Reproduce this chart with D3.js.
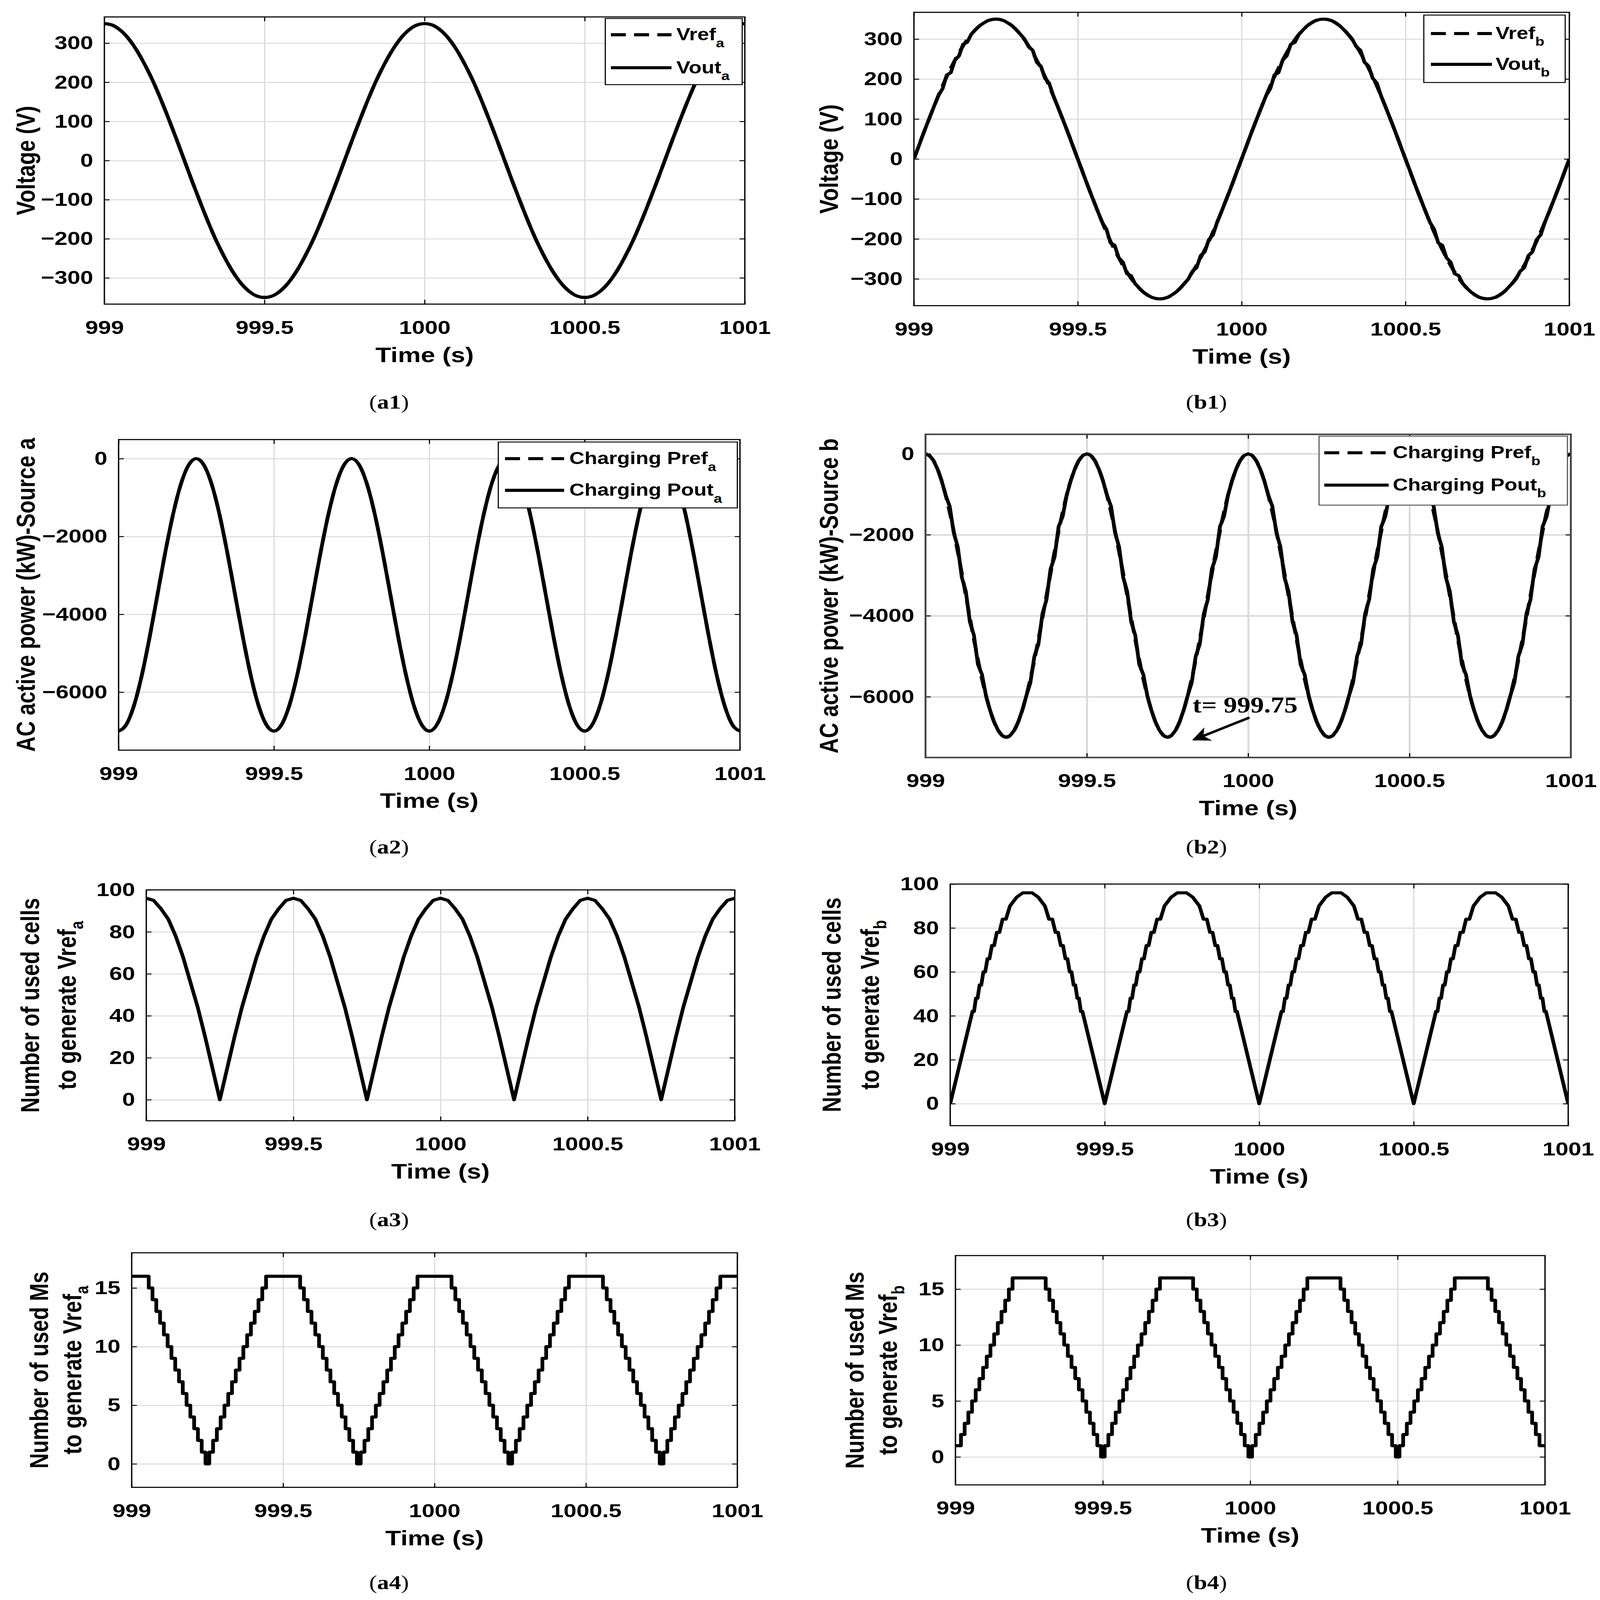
<!DOCTYPE html>
<html>
<head>
<meta charset="utf-8">
<title>Converter waveforms, sources a and b</title>
<script src="https://cdn.jsdelivr.net/npm/d3@7/dist/d3.min.js"></script>
<style>
  html, body { margin: 0; padding: 0; background: #fff; overflow: hidden; }
  #fig { display: block; width: 100vw; height: 100vh; }
  text { font-family: "Liberation Sans", Arial, Helvetica, sans-serif; font-weight: bold; }
  text.tag, text.note { font-family: "Liberation Serif", "Times New Roman", serif; }
</style>
</head>
<body>
<!-- figure is laid out on a 4277 x 5198 grid and stretched to whatever window it gets -->
<svg id="fig" viewBox="0 0 4277 5198" preserveAspectRatio="none"></svg>
<script>
// ---- ticks ----
const timeTicks = [999, 999.5, 1000, 1000.5, 1001];
const voltTicks = [-300, -200, -100, 0, 100, 200, 300];
const powerTicks = [-6000, -4000, -2000, 0];
const cellTicks = [0, 20, 40, 60, 80, 100];
const msTicks = [0, 5, 10, 15];

// sample spacing of the traces (s)
const coarseStep = 0.025;
const fineStep = 0.0125;
const coarseTime = d3.range(81).map(i => 999 + i * coarseStep);
const fineTime = d3.range(161).map(i => 999 + i * fineStep);

// (a1) voltage source a - ref and output lie on top of each other
const a1Vref = [
  350,346,333,312,283,247,206,159,108,55,0,-55,-108,-159,-206,-247,-283,-312,-333,-346,
  -350,-346,-333,-312,-283,-247,-206,-159,-108,-55,0,55,108,159,206,247,283,312,333,346,
  350,346,333,312,283,247,206,159,108,55,0,-55,-108,-159,-206,-247,-283,-312,-333,-346,
  -350,-346,-333,-312,-283,-247,-206,-159,-108,-55,0,55,108,159,206,247,283,312,333,346,
  350];
const a1Vout = a1Vref;

// (b1) voltage source b
const b1Vref = [
  0,55,108,159,206,247,283,312,333,346,350,346,333,312,283,247,206,159,108,55,
  0,-55,-108,-159,-206,-247,-283,-312,-333,-346,-350,-346,-333,-312,-283,-247,-206,-159,-108,-55,
  0,55,108,159,206,247,283,312,333,346,350,346,333,312,283,247,206,159,108,55,
  0,-55,-108,-159,-206,-247,-283,-312,-333,-346,-350,-346,-333,-312,-283,-247,-206,-159,-108,-55,
  0];
const b1Vout = [
  0,27,55,82,108,134,159,176,210,216,247,258,287,292,312,323,333,340,346,349,350,349,346,340,333,323,312,300,281,272,242,232,202,190,159,134,108,82,55,27,
  0,-27,-55,-82,-108,-134,-159,-176,-210,-216,-247,-258,-287,-292,-312,-323,-333,-340,-346,-349,-350,-349,-346,-340,-333,-323,-312,-300,-281,-272,-242,-232,-202,-190,-159,-134,-108,-82,-55,-27,
  0,27,55,82,108,134,159,176,210,216,247,258,287,292,312,323,333,340,346,349,350,349,346,340,333,323,312,300,281,272,242,232,202,190,159,134,108,82,55,27,
  0,-27,-55,-82,-108,-134,-159,-176,-210,-216,-247,-258,-287,-292,-312,-323,-333,-340,-346,-349,-350,-349,-346,-340,-333,-323,-312,-300,-281,-272,-242,-232,-202,-190,-159,-134,-108,-82,-55,-27,
  0];

// (a2) charging power source a
const a2Pref = [
  -7000,-6829,-6332,-5558,-4582,-3500,-2418,-1442,-668,-171,0,-171,-668,-1442,-2418,-3500,-4582,-5558,-6332,-6829,
  -7000,-6829,-6332,-5558,-4582,-3500,-2418,-1442,-668,-171,0,-171,-668,-1442,-2418,-3500,-4582,-5558,-6332,-6829,
  -7000,-6829,-6332,-5558,-4582,-3500,-2418,-1442,-668,-171,0,-171,-668,-1442,-2418,-3500,-4582,-5558,-6332,-6829,
  -7000,-6829,-6332,-5558,-4582,-3500,-2418,-1442,-668,-171,0,-171,-668,-1442,-2418,-3500,-4582,-5558,-6332,-6829,
  -7000];
const a2Pout = a2Pref;

// (b2) charging power source b
const b2Pref = [
  0,-171,-668,-1442,-2418,-3500,-4582,-5558,-6332,-6829,-7000,-6829,-6332,-5558,-4582,-3500,-2418,-1442,-668,-171,
  0,-171,-668,-1442,-2418,-3500,-4582,-5558,-6332,-6829,-7000,-6829,-6332,-5558,-4582,-3500,-2418,-1442,-668,-171,
  0,-171,-668,-1442,-2418,-3500,-4582,-5558,-6332,-6829,-7000,-6829,-6332,-5558,-4582,-3500,-2418,-1442,-668,-171,
  0,-171,-668,-1442,-2418,-3500,-4582,-5558,-6332,-6829,-7000,-6829,-6332,-5558,-4582,-3500,-2418,-1442,-668,-171,
  0];
const b2Pout = [
  0,-43,-171,-382,-668,-1025,-1300,-1950,-2300,-3050,-3400,-4150,-4480,-5200,-5450,-5975,-6332,-6618,-6829,-6957,-7000,-6957,-6829,-6618,-6332,-5975,-5650,-5000,-4700,-3950,-3600,-2850,-2550,-1800,-1550,-1025,-668,-382,-171,-43,
  0,-43,-171,-382,-668,-1025,-1300,-1950,-2300,-3050,-3400,-4150,-4480,-5200,-5450,-5975,-6332,-6618,-6829,-6957,-7000,-6957,-6829,-6618,-6332,-5975,-5650,-5000,-4700,-3950,-3600,-2850,-2550,-1800,-1550,-1025,-668,-382,-171,-43,
  0,-43,-171,-382,-668,-1025,-1300,-1950,-2300,-3050,-3400,-4150,-4480,-5200,-5450,-5975,-6332,-6618,-6829,-6957,-7000,-6957,-6829,-6618,-6332,-5975,-5650,-5000,-4700,-3950,-3600,-2850,-2550,-1800,-1550,-1025,-668,-382,-171,-43,
  0,-43,-171,-382,-668,-1025,-1300,-1950,-2300,-3050,-3400,-4150,-4480,-5200,-5450,-5975,-6332,-6618,-6829,-6957,-7000,-6957,-6829,-6618,-6332,-5975,-5650,-5000,-4700,-3950,-3600,-2850,-2550,-1800,-1550,-1025,-668,-382,-171,-43,
  0];

// (a3) cells used for Vref a
const a3Cells = [
  96,95,91,86,78,68,56,44,30,15,0,15,30,44,56,68,78,86,91,95,
  96,95,91,86,78,68,56,44,30,15,0,15,30,44,56,68,78,86,91,95,
  96,95,91,86,78,68,56,44,30,15,0,15,30,44,56,68,78,86,91,95,
  96,95,91,86,78,68,56,44,30,15,0,15,30,44,56,68,78,86,91,95,
  96];

// (b3) cells used for Vref b - corners of the stepped trace
const b3Time = [
  999,999.0721,999.0771,999.0833,999.0886,999.0951,999.1006,999.1074,999.1133,999.1206,999.1271,999.135,999.1422,999.1509,999.1593,999.1696,999.1803,999.1934,999.215,999.235,999.265,999.285,
  999.3066,999.3197,999.3304,999.3407,999.3491,999.3578,999.365,999.3729,999.3794,999.3867,999.3926,999.3994,999.4049,999.4114,999.4167,999.4229,999.4279,
  999.5,999.5721,999.5771,999.5833,999.5886,999.5951,999.6006,999.6074,999.6133,999.6206,999.6271,999.635,999.6422,999.6509,999.6593,999.6696,999.6803,999.6934,999.715,999.735,999.765,999.785,
  999.8066,999.8197,999.8304,999.8407,999.8491,999.8578,999.865,999.8729,999.8794,999.8867,999.8926,999.8994,999.9049,999.9114,999.9167,999.9229,999.9279,
  1000,1000.0721,1000.0771,1000.0833,1000.0886,1000.0951,1000.1006,1000.1074,1000.1133,1000.1206,1000.1271,1000.135,1000.1422,1000.1509,1000.1593,1000.1696,1000.1803,1000.1934,1000.215,1000.235,1000.265,1000.285,
  1000.3066,1000.3197,1000.3304,1000.3407,1000.3491,1000.3578,1000.365,1000.3729,1000.3794,1000.3867,1000.3926,1000.3994,1000.4049,1000.4114,1000.4167,1000.4229,1000.4279,
  1000.5,1000.5721,1000.5771,1000.5833,1000.5886,1000.5951,1000.6006,1000.6074,1000.6133,1000.6206,1000.6271,1000.635,1000.6422,1000.6509,1000.6593,1000.6696,1000.6803,1000.6934,1000.715,1000.735,1000.765,1000.785,
  1000.8066,1000.8197,1000.8304,1000.8407,1000.8491,1000.8578,1000.865,1000.8729,1000.8794,1000.8867,1000.8926,1000.8994,1000.9049,1000.9114,1000.9167,1000.9229,1000.9279,
  1001];
const b3Cells = [
  0,42,42,48,48,54,54,60,60,66,66,72,72,78,78,84,84,90,94,96,96,94,90,84,84,78,78,72,72,66,66,60,60,54,54,48,48,42,42,
  0,42,42,48,48,54,54,60,60,66,66,72,72,78,78,84,84,90,94,96,96,94,90,84,84,78,78,72,72,66,66,60,60,54,54,48,48,42,42,
  0,42,42,48,48,54,54,60,60,66,66,72,72,78,78,84,84,90,94,96,96,94,90,84,84,78,78,72,72,66,66,60,60,54,54,48,48,42,42,
  0,42,42,48,48,54,54,60,60,66,66,72,72,78,78,84,84,90,94,96,96,94,90,84,84,78,78,72,72,66,66,60,60,54,54,48,48,42,42,
  0];

// (a4) modules used for Vref a
const a4Ms = [
  16,16,16,16,16,15,14,13,12,11,10,9,8,7,6,5,4,3,2,1,0,1,2,3,4,5,6,7,8,9,10,11,12,13,14,15,16,16,16,16,
  16,16,16,16,16,15,14,13,12,11,10,9,8,7,6,5,4,3,2,1,0,1,2,3,4,5,6,7,8,9,10,11,12,13,14,15,16,16,16,16,
  16,16,16,16,16,15,14,13,12,11,10,9,8,7,6,5,4,3,2,1,0,1,2,3,4,5,6,7,8,9,10,11,12,13,14,15,16,16,16,16,
  16,16,16,16,16,15,14,13,12,11,10,9,8,7,6,5,4,3,2,1,0,1,2,3,4,5,6,7,8,9,10,11,12,13,14,15,16,16,16,16,
  16];

// (b4) modules used for Vref b
const b4Ms = [
  1,1,2,3,4,5,6,7,8,9,10,11,12,13,14,15,16,16,16,16,16,16,16,16,16,15,14,13,12,11,10,9,8,7,6,5,4,3,2,1,
  0,1,2,3,4,5,6,7,8,9,10,11,12,13,14,15,16,16,16,16,16,16,16,16,16,15,14,13,12,11,10,9,8,7,6,5,4,3,2,1,
  0,1,2,3,4,5,6,7,8,9,10,11,12,13,14,15,16,16,16,16,16,16,16,16,16,15,14,13,12,11,10,9,8,7,6,5,4,3,2,1,
  0,1,2,3,4,5,6,7,8,9,10,11,12,13,14,15,16,16,16,16,16,16,16,16,16,15,14,13,12,11,10,9,8,7,6,5,4,3,2,1,
  1];

const TICK_FONT = 62, LABEL_FONT = 69, LEGEND_FONT = 56, TAG_FONT = 64;
const LINE_W = 10, DASH = '40,22';

const panels = [
  { tag: 'a1', box: [279, 1991, 55, 988], yDomain: [-367, 367], yTicks: voltTicks,
    yLabel: [{ x: 69, text: 'Voltage (V)' }],
    series: [
      { t: coarseTime, v: a1Vref, dashed: true, curve: d3.curveMonotoneX },
      { t: coarseTime, v: a1Vout, curve: d3.curveMonotoneX }],
    legend: { box: [1618, 1984, 60, 275], line: [1633, 1795], textX: 1808, rows: [113, 220],
      labels: [['Vref', 'a'], ['Vout', 'a']] },
    tagPos: [1040, 1327] },
  { tag: 'b1', box: [2443, 4195, 40, 993], yDomain: [-367, 367], yTicks: voltTicks,
    yLabel: [{ x: 2216, text: 'Voltage (V)' }],
    series: [
      { t: coarseTime, v: b1Vref, dashed: true, curve: d3.curveMonotoneX },
      { t: fineTime, v: b1Vout }],
    legend: { box: [3806, 4184, 49, 268], line: [3825, 3988], textX: 3998, rows: [109, 209],
      labels: [['Vref', 'b'], ['Vout', 'b']] },
    tagPos: [3225, 1327] },
  { tag: 'a2', box: [317, 1978, 1428, 2437], yDomain: [-7490, 490], yTicks: powerTicks,
    yLabel: [{ x: 69, text: 'AC active power (kW)-Source a' }],
    series: [
      { t: coarseTime, v: a2Pref, dashed: true, curve: d3.curveMonotoneX },
      { t: coarseTime, v: a2Pout, curve: d3.curveMonotoneX }],
    legend: { box: [1332, 1971, 1436, 1650], line: [1350, 1508], textX: 1522, rows: [1490, 1593],
      labels: [['Charging Pref', 'a'], ['Charging Pout', 'a']] },
    tagPos: [1040, 2773] },
  { tag: 'b2', box: [2474, 4199, 1411, 2461], yDomain: [-7500, 480], yTicks: powerTicks,
    yLabel: [{ x: 2216, text: 'AC active power (kW)-Source b' }],
    series: [
      { t: coarseTime, v: b2Pref, dashed: true, curve: d3.curveMonotoneX },
      { t: fineTime, v: b2Pout }],
    legend: { box: [3526, 4190, 1417, 1641], line: [3540, 3712], textX: 3723, rows: [1471, 1576],
      labels: [['Charging Pref', 'b'], ['Charging Pout', 'b']], stroke: '#555' },
    note: { t: 999.75, v: -7000, text: 't= 999.75' },
    gridWidth: 5, boxColor: '#444', boxWidth: 5,
    tagPos: [3225, 2773] },
  { tag: 'a3', box: [391, 1964, 2891, 3641], yDomain: [-10, 100], yTicks: cellTicks,
    yLabel: [{ x: 80, text: 'Number of used cells' }, { x: 179, text: 'to generate Vref', sub: 'a' }],
    series: [{ t: coarseTime, v: a3Cells }],
    tagPos: [1040, 3983] },
  { tag: 'b3', box: [2540, 4192, 2872, 3657], yDomain: [-10, 100], yTicks: cellTicks,
    yLabel: [{ x: 2223, text: 'Number of used cells' }, { x: 2326, text: 'to generate Vref', sub: 'b' }],
    series: [{ t: b3Time, v: b3Cells }],
    tagPos: [3225, 3983] },
  { tag: 'a4', box: [352, 1971, 4070, 4832], yDomain: [-2, 18], yTicks: msTicks,
    yLabel: [{ x: 104, text: 'Number of used Ms' }, { x: 193, text: 'to generate Vref', sub: 'a' }],
    series: [{ t: fineTime, v: a4Ms, curve: d3.curveStep }],
    tagPos: [1040, 5163] },
  { tag: 'b4', box: [2554, 4130, 4079, 4824], yDomain: [-2.5, 18], yTicks: msTicks,
    yLabel: [{ x: 2285, text: 'Number of used Ms' }, { x: 2374, text: 'to generate Vref', sub: 'b' }],
    series: [{ t: fineTime, v: b4Ms, curve: d3.curveStep }],
    tagPos: [3225, 5163] }
];

const svg = d3.select('#fig');
svg.append('rect').attr('width', 4277).attr('height', 5198).attr('fill', '#fff');

const defs = svg.append('defs');
defs.append('marker').attr('id', 'arrowHead')
  .attr('viewBox', '0 0 10 10').attr('refX', 9).attr('refY', 5)
  .attr('markerWidth', 8).attr('markerHeight', 6).attr('markerUnits', 'strokeWidth')
  .attr('orient', 'auto')
  .append('path').attr('d', 'M0,0 L10,5 L0,10 L3,5 Z').attr('fill', '#000');

function drawPanel(p) {
  const [x0, x1, y0, y1] = p.box;
  const w = x1 - x0, h = y1 - y0;
  const g = svg.append('g').attr('transform', `translate(${x0},${y0})`);
  const x = d3.scaleLinear().domain([999, 1001]).range([0, w]);
  const y = d3.scaleLinear().domain(p.yDomain).range([h, 0]);

  // grid
  const gridX = g.append('g').attr('transform', `translate(0,${h})`)
    .call(d3.axisBottom(x).tickValues(timeTicks).tickSize(-h).tickFormat(''));
  const gridY = g.append('g')
    .call(d3.axisLeft(y).tickValues(p.yTicks).tickSize(-w).tickFormat(''));
  [gridX, gridY].forEach(s => {
    s.select('.domain').remove();
    s.selectAll('line').attr('stroke', '#d9d9d9').attr('stroke-width', p.gridWidth || 3);
  });

  // traces
  const clipId = 'clip-' + p.tag;
  defs.append('clipPath').attr('id', clipId)
    .append('rect').attr('x', x0).attr('y', y0).attr('width', w).attr('height', h);
  const plot = svg.append('g').attr('clip-path', `url(#${clipId})`)
    .append('g').attr('transform', `translate(${x0},${y0})`);
  p.series.forEach(s => {
    const line = d3.line()
      .x((d, i) => x(s.t[i]))
      .y(d => y(d))
      .curve(s.curve || d3.curveLinear);
    plot.append('path').datum(s.v)
      .attr('d', line)
      .attr('fill', 'none')
      .attr('stroke', '#000')
      .attr('stroke-width', LINE_W)
      .attr('stroke-linejoin', 'round')
      .attr('stroke-dasharray', s.dashed ? DASH : null);
  });

  // inner ticks on all four sides, labels bottom and left
  const tickLen = 14;
  const ax = svg.append('g').attr('transform', `translate(${x0},${y0})`);
  const bottom = ax.append('g').attr('transform', `translate(0,${h})`)
    .call(d3.axisBottom(x).tickValues(timeTicks).tickFormat(d => String(d))
      .tickSizeInner(-tickLen).tickSizeOuter(0));
  bottom.selectAll('text').attr('y', 75).attr('dy', '0.35em');
  ax.append('g')
    .call(d3.axisLeft(y).tickValues(p.yTicks).tickFormat(d3.format('d'))
      .tickSizeInner(-tickLen).tickSizeOuter(0).tickPadding(30));
  ax.append('g').call(d3.axisTop(x).tickValues(timeTicks).tickFormat('')
    .tickSizeInner(-tickLen).tickSizeOuter(0));
  ax.append('g').attr('transform', `translate(${w},0)`)
    .call(d3.axisRight(y).tickValues(p.yTicks).tickFormat('')
      .tickSizeInner(-tickLen).tickSizeOuter(0));
  ax.selectAll('.domain').remove();
  ax.selectAll('.tick line').attr('stroke', '#000').attr('stroke-width', 3);
  ax.selectAll('.tick text').attr('fill', '#000').style('font-size', TICK_FONT + 'px')
    .style('font-family', '"Liberation Sans", Arial, sans-serif').style('font-weight', 'bold');

  ax.append('rect').attr('width', w).attr('height', h)
    .attr('fill', 'none').attr('stroke', p.boxColor || '#000').attr('stroke-width', p.boxWidth || 3.5);

  // axis titles
  ax.append('text').attr('x', w / 2).attr('y', h + 164)
    .attr('text-anchor', 'middle').attr('dominant-baseline', 'central')
    .style('font-size', LABEL_FONT + 'px').text('Time (s)');
  p.yLabel.forEach(l => {
    const t = ax.append('text')
      .attr('transform', `translate(${l.x - x0},${h / 2}) rotate(-90)`)
      .attr('text-anchor', 'middle').attr('dominant-baseline', 'central')
      .style('font-size', LABEL_FONT + 'px');
    t.append('tspan').text(l.text);
    if (l.sub) t.append('tspan').attr('dy', 26).style('font-size', '48px').text(l.sub);
  });

  // annotation with arrow (b2)
  if (p.note) {
    const px = x(p.note.t), py = y(p.note.v);
    ax.append('line')
      .attr('x1', px + 219).attr('y1', py - 64)
      .attr('x2', px + 70).attr('y2', py + 8)
      .attr('stroke', '#000').attr('stroke-width', 8)
      .attr('marker-end', 'url(#arrowHead)');
    ax.append('text').attr('class', 'note')
      .attr('x', px + 67).attr('y', py - 80)
      .style('font-size', '72px').text(p.note.text);
  }

  // legend
  if (p.legend) {
    const L = p.legend;
    svg.append('rect')
      .attr('x', L.box[0]).attr('y', L.box[2])
      .attr('width', L.box[1] - L.box[0]).attr('height', L.box[3] - L.box[2])
      .attr('fill', '#fff').attr('stroke', L.stroke || '#000').attr('stroke-width', 3);
    L.rows.forEach((ry, i) => {
      svg.append('line')
        .attr('x1', L.line[0]).attr('x2', L.line[1]).attr('y1', ry).attr('y2', ry)
        .attr('stroke', '#000').attr('stroke-width', LINE_W)
        .attr('stroke-dasharray', i === 0 ? DASH : null);
      const t = svg.append('text').attr('x', L.textX).attr('y', ry + 18)
        .style('font-size', LEGEND_FONT + 'px');
      t.append('tspan').text(L.labels[i][0]);
      t.append('tspan').attr('dy', 22).style('font-size', '40px').text(L.labels[i][1]);
    });
  }

  // sub-figure tag, e.g. (a1)
  const tg = svg.append('text').attr('class', 'tag')
    .attr('x', p.tagPos[0]).attr('y', p.tagPos[1])
    .attr('text-anchor', 'middle').style('font-size', TAG_FONT + 'px')
    .style('font-weight', 'normal');
  tg.append('tspan').text('(');
  tg.append('tspan').style('font-weight', 'bold').text(p.tag);
  tg.append('tspan').text(')');
}

panels.forEach(drawPanel);
</script>
</body>
</html>
